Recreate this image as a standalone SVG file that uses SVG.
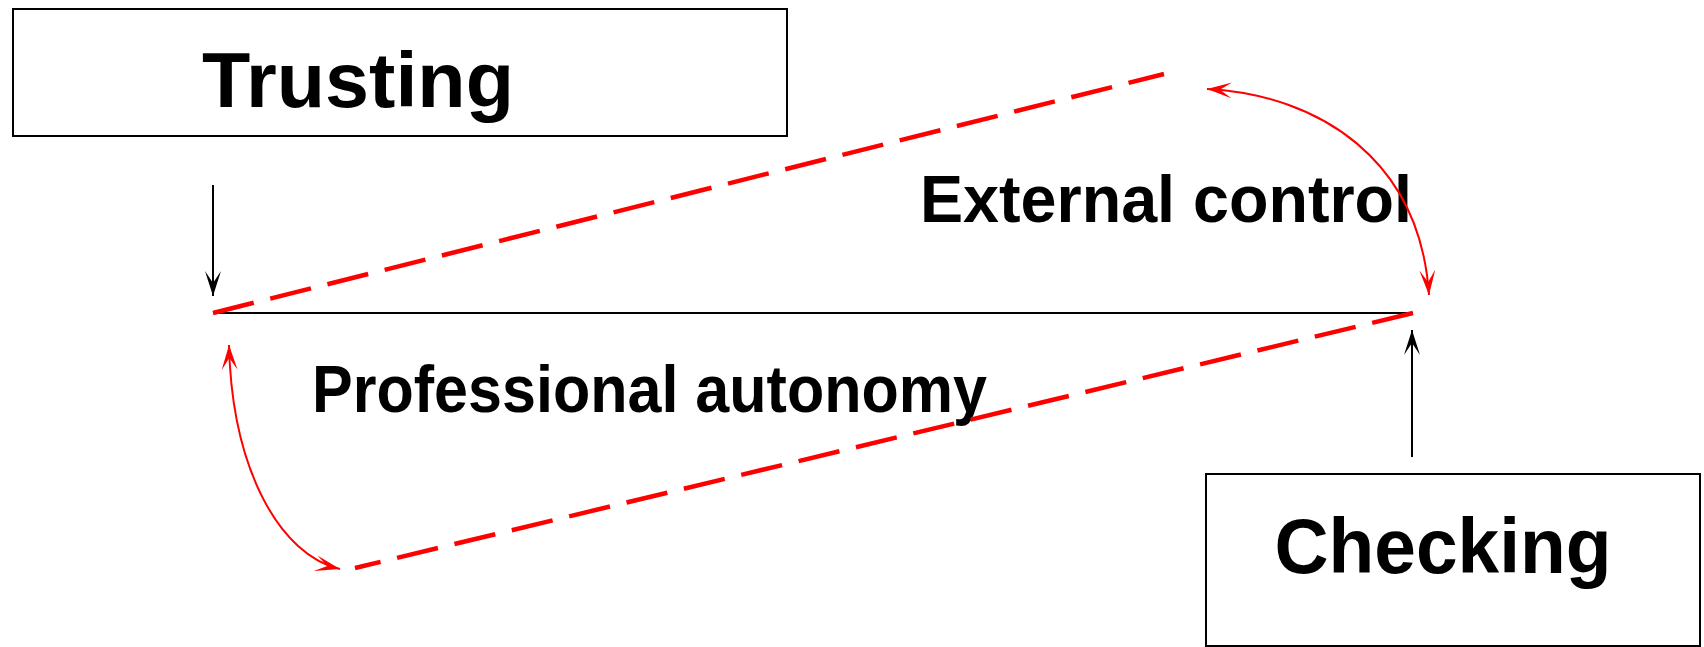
<svg xmlns="http://www.w3.org/2000/svg" width="1704" height="647" viewBox="0 0 1704 647">
<style>
.box{fill:#fff;stroke:#000;stroke-width:2}
.title{font-family:"Liberation Sans",Arial,sans-serif;font-weight:bold;font-size:78px;fill:#000}
.lbl{font-family:"Liberation Sans",Arial,sans-serif;font-weight:bold;font-size:66px;fill:#000}
.blk{fill:none;stroke:#000;stroke-width:2}
.dash{fill:none;stroke:#ff0000;stroke-width:4.5;stroke-dasharray:42 17}
.curve{fill:none;stroke:#ff0000;stroke-width:2}
</style>
<defs>
<marker id="ab" markerUnits="userSpaceOnUse" markerWidth="26" markerHeight="18" refX="25" refY="8" orient="auto" viewBox="0 0 26 18">
<path d="M25,8 L0,0 L12,8 L0,16 Z" fill="#000"/>
</marker>
<marker id="ar" markerUnits="userSpaceOnUse" markerWidth="26" markerHeight="18" refX="25" refY="8" orient="auto" viewBox="0 0 26 18">
<path d="M25,8 L0,0 L12,8 L0,16 Z" fill="#ff0000"/>
</marker>
<marker id="ars" markerUnits="userSpaceOnUse" markerWidth="26" markerHeight="18" refX="25" refY="8" orient="auto-start-reverse" viewBox="0 0 26 18">
<path d="M25,8 L0,0 L12,8 L0,16 Z" fill="#ff0000"/>
</marker>
</defs>
<g id="trusting">
<rect class="box" x="13" y="9" width="774" height="127"/>
<text class="title" x="358" y="107" text-anchor="middle" textLength="312" lengthAdjust="spacingAndGlyphs">Trusting</text>
</g>
<g id="checking">
<rect class="box" x="1206" y="474" width="494" height="172"/>
<text class="title" x="1443" y="573" text-anchor="middle" textLength="337" lengthAdjust="spacingAndGlyphs">Checking</text>
</g>
<g id="external-control">
<text class="lbl" x="920" y="222" textLength="492" lengthAdjust="spacingAndGlyphs">External control</text>
</g>
<g id="professional-autonomy">
<text class="lbl" x="312" y="412" textLength="675" lengthAdjust="spacingAndGlyphs">Professional autonomy</text>
</g>
<g id="connectors">
<line class="blk" x1="213" y1="313" x2="1413" y2="313"/>
<line class="blk" x1="213" y1="185" x2="213" y2="296" marker-end="url(#ab)"/>
<line class="blk" x1="1412" y1="457" x2="1412" y2="330" marker-end="url(#ab)"/>
<line class="dash" x1="213" y1="313" x2="1164" y2="74"/>
<line class="dash" x1="1413" y1="313" x2="355" y2="568"/>
<path class="curve" d="M1207,89 C1320,95 1420,160 1429,295" marker-start="url(#ars)" marker-end="url(#ar)"/>
<path class="curve" d="M229,345 C232,470 280,555 340,569" marker-start="url(#ars)" marker-end="url(#ar)"/>
</g>
</svg>
